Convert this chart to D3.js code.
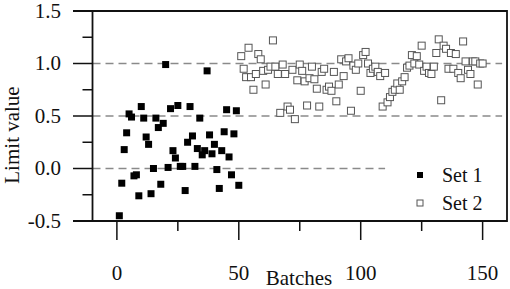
<!DOCTYPE html>
<html>
<head>
<meta charset="utf-8">
<script src="https://cdn.jsdelivr.net/npm/d3@7"></script>
<style>
  body { margin: 0; background: #fff; }
  text { font-family: "Liberation Serif", "Times New Roman", serif; fill: #111; }
</style>
</head>
<body>
<div id="chart"></div>
<script>
// Set 1: batches 1-50
const set1 = [-0.45, -0.14, 0.18, 0.34, 0.52, 0.49, -0.07, -0.06, -0.26, 0.59,
  0.48, 0.30, 0.23, -0.24, 0.00, 0.48, 0.39, -0.15, 0.43, 0.99,
  0.01, 0.57, 0.17, 0.10, 0.60, 0.02, 0.02, -0.21, 0.25, 0.59,
  0.31, 0.02, 0.19, 0.48, 0.13, 0.17, 0.93, 0.32, 0.14, 0.23,
  -0.01, -0.19, 0.17, 0.35, 0.56, 0.11, -0.06, 0.33, 0.55, -0.16];
// Set 2: batches 51-150
const set2 = [1.07, 0.95, 0.87, 1.15, 0.87, 0.75, 0.90, 1.09, 1.04, 0.93,
  0.80, 0.94, 0.97, 1.22, 0.97, 0.90, 0.53, 0.99, 0.90, 0.59,
  0.56, 0.94, 0.47, 0.84, 0.99, 0.93, 0.83, 0.60, 0.86, 0.97,
  0.85, 0.76, 0.59, 0.92, 0.95, 0.75, 0.78, 0.74, 0.92, 0.64,
  0.80, 1.04, 0.88, 1.02, 1.05, 0.55, 0.98, 0.94, 1.00, 0.74,
  1.08, 1.11, 1.00, 0.91, 0.95, 0.97, 0.92, 0.88, 0.59, 0.91,
  0.63, 0.68, 0.73, 0.75, 0.81, 0.75, 0.83, 0.87, 0.96, 0.98,
  1.08, 1.00, 1.07, 0.99, 1.17, 0.93, 0.97, 0.91, 0.90, 0.97,
  1.10, 1.23, 0.65, 1.17, 1.14, 0.95, 1.10, 0.95, 1.09, 0.91,
  0.86, 1.21, 1.02, 0.94, 0.90, 1.02, 1.02, 0.80, 1.00, 1.00];
const set1Start = 1;
const set2Start = 51;

const xTicks = [0, 50, 100, 150];
const xMinor = [25, 75, 125];
const yTicks = [-0.5, 0.0, 0.5, 1.0, 1.5];
const yMinor = [-0.25, 0.25, 0.75, 1.25];
// dashed reference levels and where they stop
const refLevels = [0.0, 0.5, 1.0];
const refEnds = [110, 158, 158];
const legendLabels = ["Set 1", "Set 2"];

const width = 510, height = 289;
const m = { left: 73, right: 507, top: 11, bottom: 221 };
const yAxisAt = -10;

const x = d3.scaleLinear().domain([-18, 160]).range([m.left, m.right]);
const y = d3.scaleLinear().domain([-0.5, 1.5]).range([m.bottom, m.top]);

const svg = d3.select("#chart").append("svg")
  .attr("width", width)
  .attr("height", height);

// dashed reference lines
svg.append("g")
  .selectAll("line")
  .data(refLevels)
  .join("line")
  .attr("x1", x(yAxisAt))
  .attr("x2", (d, i) => x(refEnds[i]))
  .attr("y1", d => y(d))
  .attr("y2", d => y(d))
  .attr("stroke", "#8a8a8a")
  .attr("stroke-width", 1.5)
  .attr("stroke-dasharray", "8,5");

// frame: top, right, bottom
svg.append("path")
  .attr("d", `M${m.left},${m.top}H${m.right}V${m.bottom}H${m.left}`)
  .attr("fill", "none")
  .attr("stroke", "#111")
  .attr("stroke-width", 1.8);

// y axis line
svg.append("line")
  .attr("x1", x(yAxisAt)).attr("x2", x(yAxisAt))
  .attr("y1", m.top).attr("y2", m.bottom)
  .attr("stroke", "#111").attr("stroke-width", 1.8);

// y ticks
svg.append("g").selectAll("line").data(yTicks).join("line")
  .attr("x1", m.left).attr("x2", x(yAxisAt))
  .attr("y1", d => y(d)).attr("y2", d => y(d))
  .attr("stroke", "#111").attr("stroke-width", 1.5);
svg.append("g").selectAll("line").data(yMinor).join("line")
  .attr("x1", x(yAxisAt) - 10).attr("x2", x(yAxisAt))
  .attr("y1", d => y(d)).attr("y2", d => y(d))
  .attr("stroke", "#111").attr("stroke-width", 1.5);
svg.append("g").selectAll("text").data(yTicks).join("text")
  .attr("x", m.left - 12)
  .attr("y", d => y(d) + 2)
  .attr("text-anchor", "end")
  .attr("dominant-baseline", "middle")
  .style("font-size", "21px")
  .text(d => d3.format(".1f")(d).replace("−", "-"));

// x ticks
svg.append("g").selectAll("line").data(xTicks).join("line")
  .attr("x1", d => x(d)).attr("x2", d => x(d))
  .attr("y1", m.bottom).attr("y2", m.bottom + 19)
  .attr("stroke", "#111").attr("stroke-width", 1.5);
svg.append("g").selectAll("line").data(xMinor).join("line")
  .attr("x1", d => x(d)).attr("x2", d => x(d))
  .attr("y1", m.bottom).attr("y2", m.bottom + 10)
  .attr("stroke", "#111").attr("stroke-width", 1.5);
svg.append("g").selectAll("text").data(xTicks).join("text")
  .attr("x", d => x(d))
  .attr("y", 280)
  .attr("text-anchor", "middle")
  .style("font-size", "21px")
  .text(d => d);

// axis titles
svg.append("text")
  .attr("x", 299).attr("y", 285)
  .attr("text-anchor", "middle")
  .style("font-size", "21px")
  .text("Batches");
svg.append("text")
  .attr("transform", "translate(19,135) rotate(-90)")
  .attr("text-anchor", "middle")
  .style("font-size", "21px")
  .text("Limit value");

// points
const s = 7;
svg.append("g").selectAll("rect").data(set2).join("rect")
  .attr("x", (d, i) => x(set2Start + i) - s / 2)
  .attr("y", d => y(d) - s / 2)
  .attr("width", s).attr("height", s)
  .attr("fill", "#fff")
  .attr("stroke", "#555")
  .attr("stroke-width", 1);
svg.append("g").selectAll("rect").data(set1).join("rect")
  .attr("x", (d, i) => x(set1Start + i) - s / 2)
  .attr("y", d => y(d) - s / 2)
  .attr("width", s).attr("height", s)
  .attr("fill", "#000");

// legend
const lg = svg.append("g").attr("transform", "translate(420,175)");
lg.selectAll("rect").data(legendLabels).join("rect")
  .attr("x", -3).attr("y", (d, i) => i * 28 - 3)
  .attr("width", 6).attr("height", 6)
  .attr("fill", (d, i) => i === 0 ? "#000" : "#fff")
  .attr("stroke", (d, i) => i === 0 ? "none" : "#555")
  .attr("stroke-width", 1);
lg.selectAll("text").data(legendLabels).join("text")
  .attr("x", 22).attr("y", (d, i) => i * 28 + 7)
  .style("font-size", "20px")
  .text(d => d);
</script>
</body>
</html>
